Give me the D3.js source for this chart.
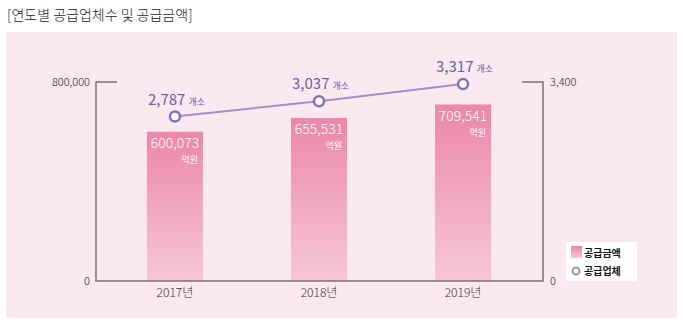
<!DOCTYPE html>
<html><head><meta charset="utf-8">
<script src="https://cdn.jsdelivr.net/npm/d3@7"></script>
<style>body{margin:0;background:#fff;font-family:"Noto Sans CJK KR","Noto Sans",sans-serif}</style>
</head><body><svg id="c" width="683" height="324"></svg>
<script>
const years = ["2017년", "2018년", "2019년"];
const amounts = [600073, 655531, 709541];
const suppliers = [2787, 3037, 3317];
const leftTicks = [0, 800000];
const rightTicks = [0, 3400];
const title = "[연도별 공급업체수 및 공급금액]";

const svg = d3.select("#c");
const font = '"Noto Sans CJK KR","Noto Sans",sans-serif';

svg.append("text").attr("x", 7).attr("y", 20).attr("font-size", 14).attr("font-weight", 300).attr("fill", "#222")
  .attr("font-family", font).text(title);
svg.append("rect").attr("x", 6).attr("y", 32).attr("width", 671).attr("height", 286).attr("fill", "#fce8ef");

const x0 = 96, x1 = 543, yTop = 82, yBot = 281;
const x = d3.scaleBand().domain(years).range([103, 535]).paddingInner(0.611).paddingOuter(0.305);
const yL = d3.scaleLinear().domain([0, 800000]).range([yBot, yTop]);
const yR = d3.scaleLinear().domain([0, 3400]).range([yBot + 6, yTop - 3]);

const defs = svg.append("defs");
const g = defs.append("linearGradient").attr("id", "bg").attr("x1", 0).attr("y1", 0).attr("x2", 0).attr("y2", 1);
g.append("stop").attr("offset", "0%").attr("stop-color", "#ec87a9");
g.append("stop").attr("offset", "100%").attr("stop-color", "#f6c7d6");
const g2 = defs.append("linearGradient").attr("id", "lg").attr("x1", 0).attr("y1", 0).attr("x2", 0).attr("y2", 1);
g2.append("stop").attr("offset", "0%").attr("stop-color", "#ec87a9");
g2.append("stop").attr("offset", "100%").attr("stop-color", "#f6c7d6");

// bars
svg.selectAll(".bar").data(years).join("rect")
  .attr("x", d => x(d)).attr("width", x.bandwidth())
  .attr("y", (d, i) => yL(amounts[i])).attr("height", (d, i) => yBot - yL(amounts[i]))
  .attr("fill", "url(#bg)");

// axes
const axisCol = "#7a7274";
const leftAxis = d3.axisLeft(yL).tickValues(leftTicks).tickSize(0).tickPadding(6).tickFormat(d3.format(","));
const la = svg.append("g").attr("transform", `translate(${x0},0)`).call(leftAxis);
la.select(".domain").remove();
la.selectAll("text").attr("font-size", 11).attr("font-weight", 300).attr("fill", "#222").attr("font-family", font).attr("dy", "0.35em");
const rightAxis = d3.axisRight(d3.scaleLinear().domain([0, 3400]).range([yBot, yTop])).tickValues(rightTicks).tickSize(0).tickPadding(7).tickFormat(d3.format(","));
const ra = svg.append("g").attr("transform", `translate(${x1},0)`).call(rightAxis);
ra.select(".domain").remove();
ra.selectAll("text").attr("font-size", 11).attr("font-weight", 300).attr("fill", "#222").attr("font-family", font).attr("dy", "0.35em");

svg.append("path").attr("fill", "none").attr("stroke", axisCol).attr("stroke-width", 1.5)
  .attr("d", `M${x0 + 21},${yTop}H${x0}V${yBot}H${x1}V${yTop}H${x1 - 21}`);

// x labels
svg.selectAll(".xl").data(years).join("text")
  .attr("x", d => x(d) + x.bandwidth() / 2).attr("y", 297).attr("text-anchor", "middle")
  .attr("font-size", 12).attr("font-weight", 300).attr("fill", "#333").attr("font-family", font).text(d => d);

// bar labels
years.forEach((d, i) => {
  const cx = x(d) + x.bandwidth() / 2, top = yL(amounts[i]);
  svg.append("text").attr("x", cx).attr("y", top + 16).attr("text-anchor", "middle")
    .attr("font-size", 14).attr("font-weight", 300).attr("fill", "#fff").attr("font-family", font).text(d3.format(",")(amounts[i]));
  svg.append("text").attr("x", x(d) + x.bandwidth() - 5).attr("y", top + 31).attr("text-anchor", "end")
    .attr("font-size", 9).attr("fill", "#fff").attr("font-family", font).text("억원");
});

// line
const lineCol = "#9d90cf";
const line = d3.line().x((d, i) => x(years[i]) + x.bandwidth() / 2).y(d => yR(d));
svg.append("path").datum(suppliers).attr("d", line).attr("fill", "none").attr("stroke", lineCol).attr("stroke-width", 2);
svg.selectAll(".pt").data(suppliers).join("circle")
  .attr("cx", (d, i) => x(years[i]) + x.bandwidth() / 2).attr("cy", d => yR(d)).attr("r", 5)
  .attr("fill", "#fff").attr("stroke", "#7f72bd").attr("stroke-width", 2.5);
suppliers.forEach((v, i) => {
  const cx = x(years[i]) + x.bandwidth() / 2, cy = yR(v);
  const t = svg.append("text").attr("x", cx - 27).attr("y", cy - 12).attr("font-family", font);
  t.append("tspan").attr("font-size", 15).attr("fill", "#6a5fb0").text(d3.format(",")(v));
  t.append("tspan").attr("font-size", 9).attr("fill", "#6a5fb0").attr("dx", 3).text("개소");
});

// legend
const lg = svg.append("g").attr("transform", "translate(566,242)");
lg.append("rect").attr("width", 71).attr("height", 39).attr("fill", "#fff");
lg.append("rect").attr("x", 5).attr("y", 4).attr("width", 11).attr("height", 12).attr("fill", "url(#lg)");
lg.append("text").attr("x", 18).attr("y", 15).attr("font-size", 10).attr("font-weight", "bold").attr("fill", "#111").attr("font-family", font).text("공급금액");
lg.append("circle").attr("cx", 10).attr("cy", 29).attr("r", 3.5).attr("fill", "#fff").attr("stroke", "#9d90cf").attr("stroke-width", 2);
lg.append("text").attr("x", 18).attr("y", 33).attr("font-size", 10).attr("font-weight", "bold").attr("fill", "#111").attr("font-family", font).text("공급업체");
</script></body></html>
